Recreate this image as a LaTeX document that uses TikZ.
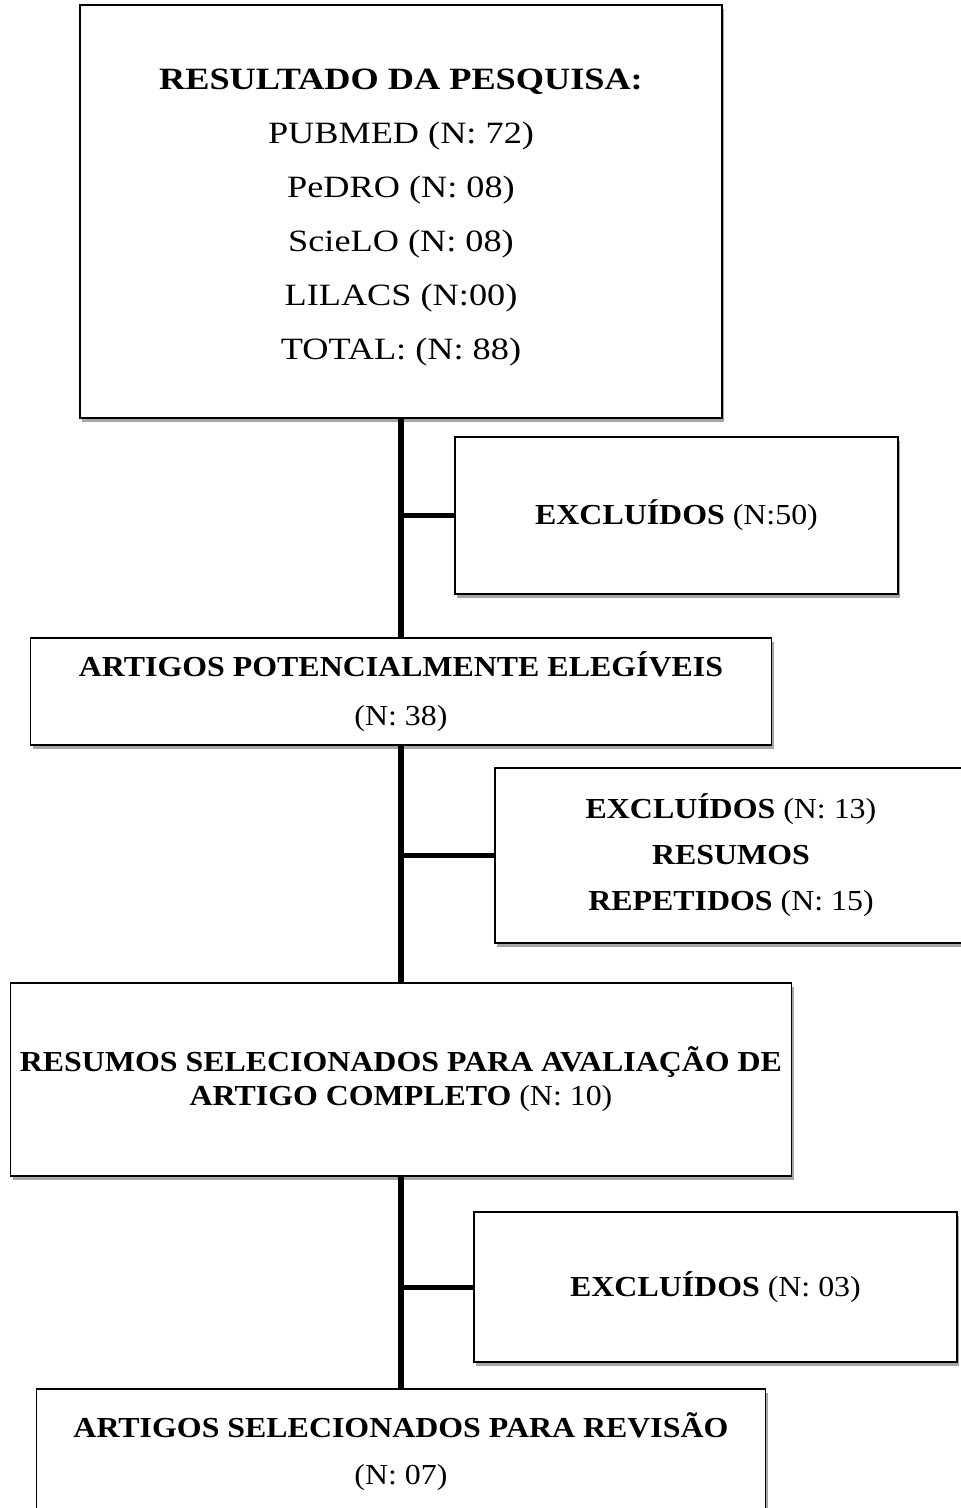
\documentclass[tikz,border=0pt]{standalone}
\usepackage{fontspec}
\setmainfont{Liberation Serif}
\newfontfamily\fa[FakeStretch=1.1]{Liberation Serif}
\newfontfamily\fb[FakeStretch=1.17]{Liberation Serif}
\usetikzlibrary{shadows}
\begin{document}
\begin{tikzpicture}[x=1pt,y=-1pt,
  box/.style={draw=black, line width=1.8pt, fill=white, rectangle, inner sep=0pt, align=center,
    drop shadow={shadow xshift=2pt, shadow yshift=-3.5pt, opacity=0.35, fill=black}},
  txt/.style={inner sep=0pt, align=center},
  trunk/.style={line width=5.5pt},
  branch/.style={line width=5pt}]
\useasboundingbox (0,0) rectangle (961,1508);
\fill[white] (0,0) rectangle (961,1508);

\node[box, minimum width=642pt, minimum height=413pt] (b1) at (401,211.5) {};
\node[txt, font=\fb\fontsize{31}{54}\selectfont] (t1) at (401,217.5)
  {\textbf{RESULTADO DA PESQUISA:}\\PUBMED (N: 72)\\PeDRO (N: 08)\\ScieLO (N: 08)\\LILACS (N:00)\\TOTAL: (N: 88)};

\node[box, minimum width=443pt, minimum height=157pt, font=\fa\fontsize{29}{46}\selectfont] (b2) at (676.5,515.5)
  {\textbf{EXCLUÍDOS} (N:50)};

\node[box, minimum width=741pt, minimum height=107pt, font=\fa\fontsize{29}{49}\selectfont] (b3) at (401,691.5)
  {\textbf{ARTIGOS POTENCIALMENTE ELEGÍVEIS}\\(N: 38)};

\node[box, minimum width=472pt, minimum height=175pt, font=\fa\fontsize{29}{46}\selectfont] (b4) at (731,855.5)
  {\textbf{EXCLUÍDOS} (N: 13)\\\textbf{RESUMOS}\\\textbf{REPETIDOS} (N: 15)};

\node[box, minimum width=781pt, minimum height=193pt, font=\fa\fontsize{29}{34}\selectfont] (b5) at (401,1079.5)
  {\textbf{RESUMOS SELECIONADOS PARA AVALIAÇÃO DE}\\\textbf{ARTIGO COMPLETO} (N: 10)};

\node[box, minimum width=483pt, minimum height=150pt, font=\fa\fontsize{29}{46}\selectfont] (b6) at (715.5,1287)
  {\textbf{EXCLUÍDOS} (N: 03)};

\node[box, minimum width=729pt, minimum height=126pt, font=\fa\fontsize{29}{47}\selectfont] (b7) at (401,1452)
  {\textbf{ARTIGOS SELECIONADOS PARA REVISÃO}\\(N: 07)};

\draw[trunk] (b1.south) -- (b3.north);
\draw[trunk] (b3.south) -- (b5.north);
\draw[trunk] (b5.south) -- (b7.north);
\draw[branch] (b1.south |- b2.west) -- (b2.west);
\draw[branch] (b3.south |- b4.west) -- (b4.west);
\draw[branch] (b5.south |- b6.west) -- (b6.west);
\end{tikzpicture}
\end{document}
